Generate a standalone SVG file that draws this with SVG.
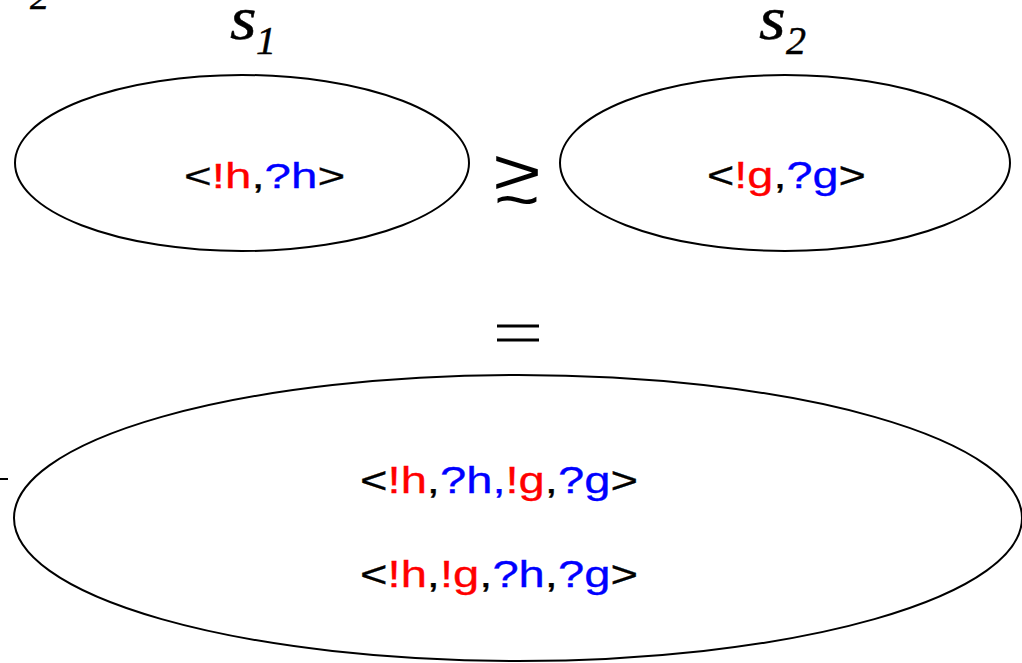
<svg xmlns="http://www.w3.org/2000/svg" width="1022" height="663" viewBox="0 0 1022 663">
<style>
.ell{fill:none;stroke:#000;stroke-width:2}
.t{font-family:"Liberation Sans",Arial,sans-serif;font-size:36px;fill:#000;stroke:#000;stroke-width:0.3}
.r{fill:#ff0000;stroke:#ff0000}
.b{fill:#0000ff;stroke:#0000ff}
.m{font-family:"Liberation Serif","Times New Roman",serif;font-style:italic;fill:#000;stroke:#000;stroke-width:0.5}
.sym{font-family:"Liberation Sans",Arial,sans-serif;font-size:64px;fill:#000}
</style>
<rect width="1022" height="663" fill="#fff"/>
<g id="edge-marks">
<text class="m" x="30" y="9" font-size="38" font-style="normal">2</text>
<line x1="0" y1="479" x2="8" y2="479" stroke="#000" stroke-width="2"/>
</g>
<g id="s1">
<text class="m" transform="translate(230,39) scale(1.1,1)" font-size="62">s</text>
<text class="m" x="256" y="54" font-size="40">1</text>
<ellipse class="ell" cx="242" cy="163" rx="227" ry="88"/>
<text class="t" transform="translate(184,188) scale(1.32,1)">&lt;<tspan class="r">!h</tspan>,<tspan class="b">?h</tspan>&gt;</text>
</g>
<g id="s2">
<text class="m" transform="translate(759,39) scale(1.1,1)" font-size="62">s</text>
<text class="m" x="786" y="54" font-size="40" font-style="normal">2</text>
<ellipse class="ell" cx="785" cy="163" rx="225" ry="88"/>
<text class="t" transform="translate(707,188) scale(1.3,1)">&lt;<tspan class="r">!g</tspan>,<tspan class="b">?g</tspan>&gt;</text>
</g>
<g id="relations">
<text class="sym"><tspan x="492" y="194" textLength="50" lengthAdjust="spacingAndGlyphs">&gt;</tspan><tspan x="494" y="222" textLength="46" lengthAdjust="spacingAndGlyphs">~</tspan></text>
<line x1="497" y1="326" x2="539" y2="326" stroke="#000" stroke-width="3"/>
<line x1="497" y1="340" x2="539" y2="340" stroke="#000" stroke-width="3"/>
</g>
<g id="result">
<ellipse class="ell" cx="518" cy="518" rx="504" ry="143"/>
<text class="t" transform="translate(360,493) scale(1.31,1)">&lt;<tspan class="r">!h</tspan>,<tspan class="b">?h,</tspan><tspan class="r">!g</tspan>,<tspan class="b">?g</tspan>&gt;</text>
<text class="t" transform="translate(360,587) scale(1.31,1)">&lt;<tspan class="r">!h</tspan>,<tspan class="r">!g</tspan>,<tspan class="b">?h</tspan>,<tspan class="b">?g</tspan>&gt;</text>
</g>
<g id="connectors"></g>
</svg>
